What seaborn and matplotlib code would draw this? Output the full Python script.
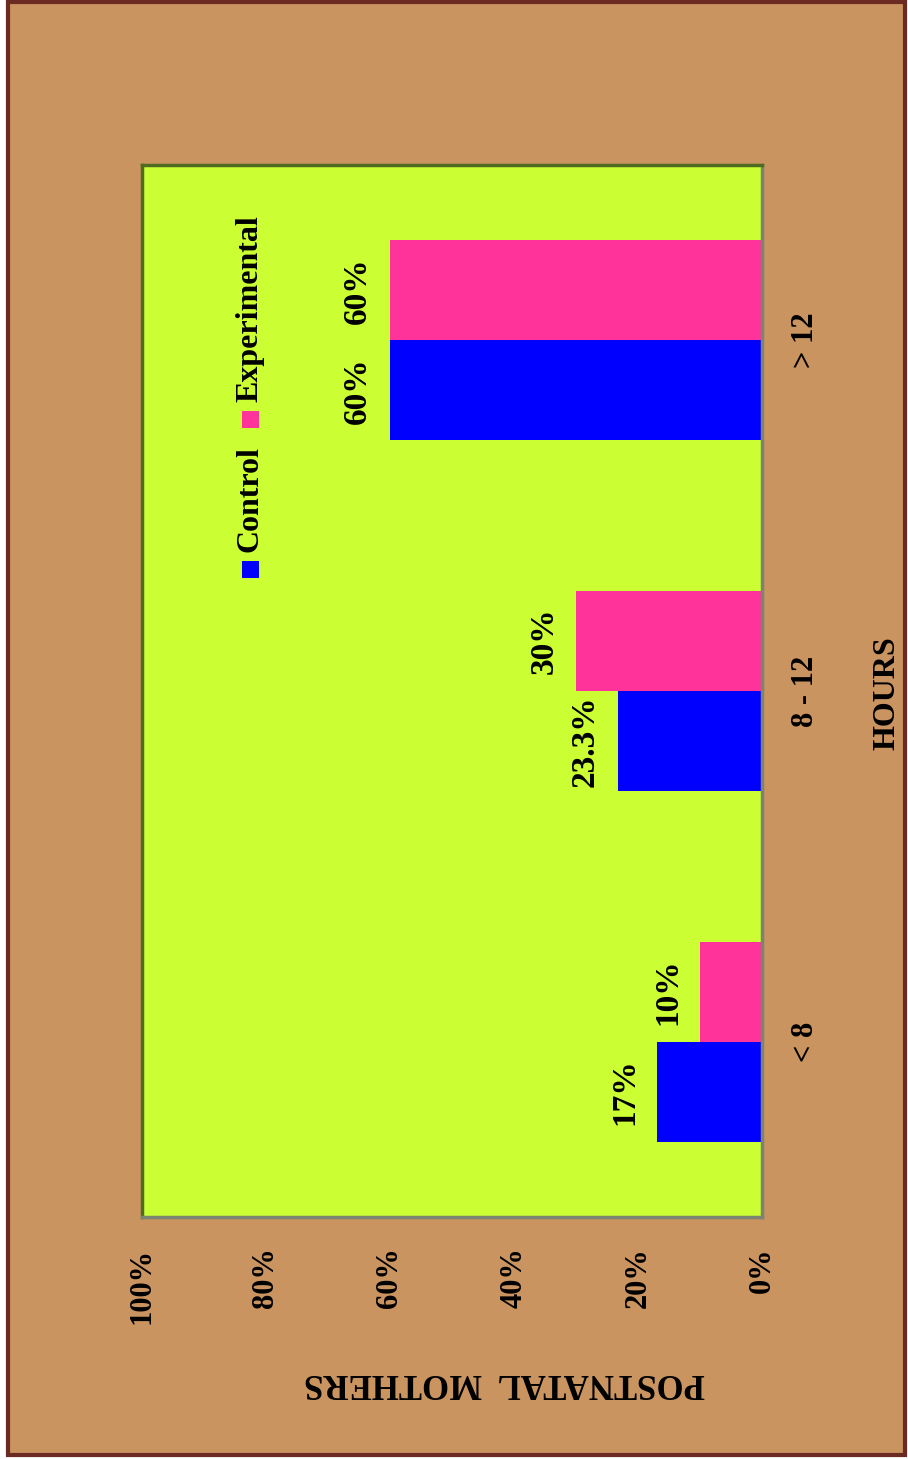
import matplotlib
matplotlib.use("Agg")
import matplotlib.pyplot as plt
from matplotlib.patches import Rectangle
import seaborn as sns
import pandas as pd

# ---- data ----
categories = ["< 8", "8 - 12", "> 12"]
control = [17, 23.3, 60]
experimental = [10, 30, 60]
value_ticks = [0, 20, 40, 60, 80, 100]
value_tick_labels = ["0%", "20%", "40%", "60%", "80%", "100%"]

df = pd.DataFrame({
    "hours": categories + categories,
    "group": ["Control"] * len(categories) + ["Experimental"] * len(categories),
    "value": control + experimental,
})

sns.set_style("white")
plt.rcParams["font.family"] = ["Liberation Serif", "DejaVu Serif"]
plt.rcParams["font.weight"] = "bold"
plt.rcParams["text.color"] = "black"
plt.rcParams["xtick.color"] = "black"
plt.rcParams["ytick.color"] = "black"
plt.rcParams["xtick.labelcolor"] = "black"
plt.rcParams["ytick.labelcolor"] = "black"

W, H = 908, 1459
fig = plt.figure(figsize=(W / 100, H / 100), dpi=100, facecolor="white")

# cork background with dark frame
fig.patches.append(Rectangle((8 / W, 1 - 1454.5 / H), 896.5 / W, 1453 / H,
                             transform=fig.transFigure, facecolor="#c9945f",
                             edgecolor="#6b2a22", linewidth=3, zorder=-5))

ax = fig.add_axes([142 / W, 1 - 1217 / H, 620 / W, 1052 / H])
ax.set_facecolor("#CCFF33")

palette = {"Control": "#0000FF", "Experimental": "#FF3399"}
sns.barplot(data=df, y="hours", x="value", hue="group",
            order=["> 12", "8 - 12", "< 8"],
            hue_order=["Experimental", "Control"],
            palette=palette, saturation=1, width=0.571, orient="h",
            errorbar=None, legend=False, linewidth=0, ax=ax)

ax.set_xlim(100, 0)
ax.set_ylim(2.5, -0.5)
ax.set_xticks(value_ticks)
ax.set_xticklabels(value_tick_labels)
ax.tick_params(axis="x", labelrotation=90, pad=22, length=0, labelsize=22,
               labelcolor="black")
ax.yaxis.tick_right()
ax.tick_params(axis="y", labelrotation=90, pad=21, length=0, labelsize=22,
               labelcolor="black")
for lbl in ax.get_yticklabels():
    lbl.set_fontweight("bold")
    lbl.set_va("center")
for lbl in ax.get_xticklabels():
    lbl.set_fontweight("bold")
ax.set_xlabel("")
ax.set_ylabel("")
ax.grid(False)

for side in ["left", "top"]:
    ax.spines[side].set_color("#4f6b22")
    ax.spines[side].set_linewidth(2.5)
for side in ["right", "bottom"]:
    ax.spines[side].set_color("#7a8470")
    ax.spines[side].set_linewidth(2.5)

for cont in ax.containers:
    labels = [f"{v:g}%" for v in cont.datavalues]
    ax.bar_label(cont, labels=labels, padding=12, rotation=90,
                 fontsize=24, fontweight="bold", color="black")

# axis titles
fig.text(887 / W, 1 - 693 / H, "HOURS", rotation=90, ha="center", va="center",
         fontsize=23, fontweight="bold", color="black")
fig.text(505 / W, 1 - 1383 / H, "POSTNATAL  MOTHERS", rotation=180,
         ha="center", va="center", fontsize=25, fontweight="bold", color="black")

# legend (rotated)
fig.patches.append(Rectangle((242 / W, 1 - 578 / H), 17 / W, 17 / H,
                             transform=fig.transFigure, facecolor="#0000FF",
                             edgecolor="none", zorder=5))
fig.patches.append(Rectangle((242 / W, 1 - 428 / H), 17 / W, 17 / H,
                             transform=fig.transFigure, facecolor="#FF3399",
                             edgecolor="none", zorder=5))
fig.text(250 / W, 1 - 499 / H, "Control", rotation=90, ha="center", va="center",
         fontsize=23, fontweight="bold", color="black")
fig.text(250 / W, 1 - 309 / H, "Experimental", rotation=90, ha="center",
         va="center", fontsize=23, fontweight="bold", color="black")

fig.savefig("out.png", dpi=100, facecolor="white")
